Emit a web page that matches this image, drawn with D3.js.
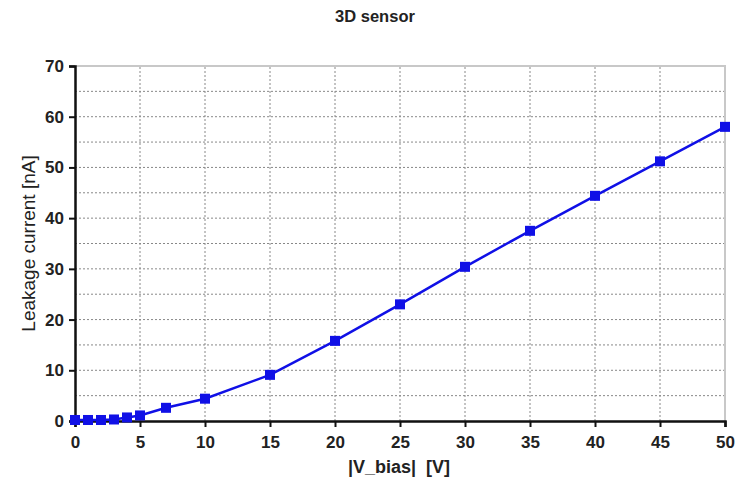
<!DOCTYPE html>
<html>
<head>
<meta charset="utf-8">
<script src="https://cdn.jsdelivr.net/npm/d3@7"></script>
<style>
  html, body { margin: 0; padding: 0; background: #fff; }
  svg { display: block; font-family: "Liberation Sans", Arial, sans-serif; }
</style>
</head>
<body>
<div id="chart"></div>
<script>
// chart values
const biasVoltage = [0, 1, 2, 3, 4, 5, 7, 10, 15, 20, 25, 30, 35, 40, 45, 50];
const leakageCurrent = [0.2, 0.2, 0.2, 0.3, 0.7, 1.1, 2.6, 4.4, 9.1, 15.8, 23.0, 30.4, 37.5, 44.4, 51.2, 58.0];
const xTicks = [0, 5, 10, 15, 20, 25, 30, 35, 40, 45, 50];
const yTicks = [0, 10, 20, 30, 40, 50, 60, 70];
const yGrid = [5, 10, 15, 20, 25, 30, 35, 40, 45, 50, 55, 60, 65];

const width = 742;
const height = 497;
const margin = { top: 66, right: 17, bottom: 76, left: 75 };

const svg = d3
  .select("#chart")
  .append("svg")
  .attr("width", width)
  .attr("height", height);

const x = d3.scaleLinear().domain([0, 50]).range([margin.left, width - margin.right]);
const y = d3.scaleLinear().domain([0, 70]).range([height - margin.bottom, margin.top]);

// grid
svg.append("g")
  .selectAll("line")
  .data(yGrid)
  .enter()
  .append("line")
  .attr("x1", x(0))
  .attr("x2", x(50))
  .attr("y1", (d) => y(d))
  .attr("y2", (d) => y(d))
  .attr("stroke", "#888")
  .attr("stroke-width", 1)
  .attr("stroke-dasharray", "2,2");

svg.append("g")
  .selectAll("line")
  .data(xTicks.slice(1, -1))
  .enter()
  .append("line")
  .attr("x1", (d) => x(d))
  .attr("x2", (d) => x(d))
  .attr("y1", y(0))
  .attr("y2", y(70))
  .attr("stroke", "#888")
  .attr("stroke-width", 1)
  .attr("stroke-dasharray", "2,2");

// light frame top / right
svg.append("path")
  .attr("d", `M${x(0)},${y(70)}H${x(50)}V${y(0)}`)
  .attr("fill", "none")
  .attr("stroke", "#c8c8c8")
  .attr("stroke-width", 2);

// axes
const xAxis = svg.append("g")
  .attr("transform", `translate(0,${y(0)})`)
  .call(d3.axisBottom(x).tickValues(xTicks).tickSize(6).tickPadding(9));
const yAxis = svg.append("g")
  .attr("transform", `translate(${x(0)},0)`)
  .call(d3.axisLeft(y).tickValues(yTicks).tickSize(6).tickPadding(5));

[xAxis, yAxis].forEach((g) => {
  g.attr("font-family", null).attr("font-size", null);
  g.select(".domain").attr("stroke", "#111").attr("stroke-width", 2.5);
  g.selectAll(".tick line").attr("stroke", "#111").attr("stroke-width", 2);
  g.selectAll(".tick text")
    .attr("font-size", 17)
    .attr("font-weight", "bold")
    .attr("fill", "#222");
});

// line + markers
const line = d3.line()
  .x((d, i) => x(biasVoltage[i]))
  .y((d) => y(d));

svg.append("path")
  .datum(leakageCurrent)
  .attr("d", line)
  .attr("fill", "none")
  .attr("stroke", "#1010e6")
  .attr("stroke-width", 2.5);

svg.append("g")
  .selectAll("rect")
  .data(leakageCurrent)
  .enter()
  .append("rect")
  .attr("x", (d, i) => x(biasVoltage[i]) - 5)
  .attr("y", (d) => y(d) - 5)
  .attr("width", 10)
  .attr("height", 10)
  .attr("fill", "#1010e6");

// titles
svg.append("text")
  .attr("x", 375)
  .attr("y", 22)
  .attr("text-anchor", "middle")
  .attr("font-weight", "bold")
  .attr("font-size", 16.5)
  .attr("fill", "#222")
  .text("3D sensor");

svg.append("text")
  .attr("x", 399)
  .attr("y", 473)
  .attr("text-anchor", "middle")
  .attr("font-weight", "bold")
  .attr("font-size", 18)
  .attr("fill", "#222")
  .style("white-space", "pre")
  .text("|V_bias|  [V]");

svg.append("text")
  .attr("transform", `translate(35,${y(35)}) rotate(-90)`)
  .attr("text-anchor", "middle")
  .attr("font-size", 19)
  .attr("fill", "#222")
  .text("Leakage current [nA]");
</script>
</body>
</html>
